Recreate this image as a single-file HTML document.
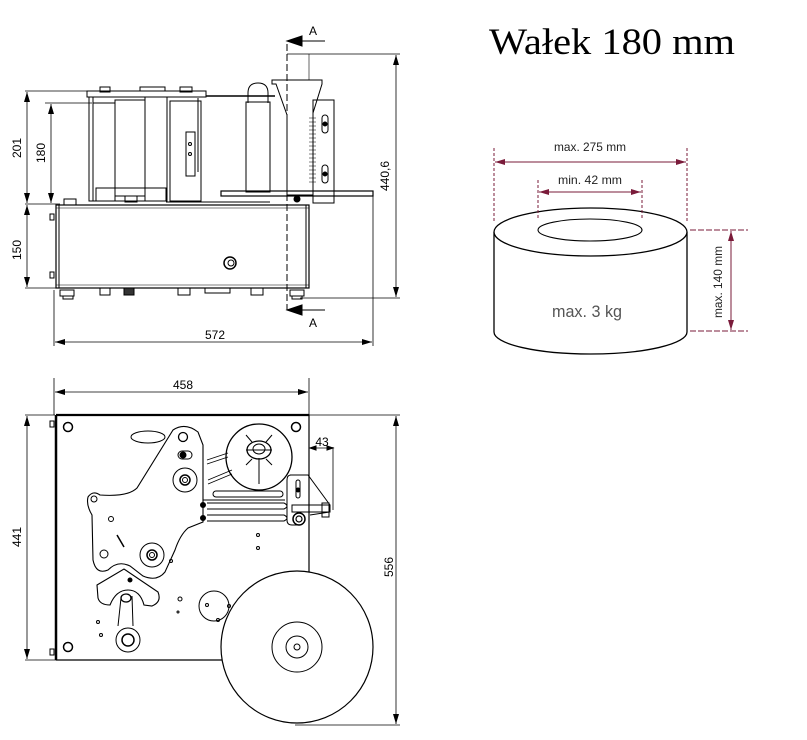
<!DOCTYPE html>
<html><head><meta charset="utf-8"><style>
html,body{margin:0;padding:0;background:#fff;}
svg{display:block;}
text{font-family:"Liberation Sans",sans-serif;}
</style></head><body>
<svg width="807" height="740" viewBox="0 0 807 740" xmlns="http://www.w3.org/2000/svg">
<defs>
<marker id="ab" markerWidth="10" markerHeight="6" refX="10" refY="3" orient="auto-start-reverse" markerUnits="userSpaceOnUse"><path d="M0,0 L10,3 L0,6 Z" fill="#000"/></marker>
<marker id="ar" markerWidth="10" markerHeight="6" refX="10" refY="3" orient="auto-start-reverse" markerUnits="userSpaceOnUse"><path d="M0,0 L10,3 L0,6 Z" fill="#7a1b3a"/></marker>
</defs>
<g stroke="#000" fill="none" stroke-width="1">
<line x1="25" y1="91" x2="100" y2="91" stroke-width="0.8"/>
<line x1="25" y1="204" x2="60" y2="204" stroke-width="0.8"/>
<line x1="45" y1="103" x2="92" y2="103" stroke-width="0.8"/>
<line x1="25" y1="288" x2="58" y2="288" stroke-width="0.8"/>
<line x1="27" y1="92" x2="27" y2="203" marker-start="url(#ab)" marker-end="url(#ab)" stroke-width="0.8"/>
<line x1="51" y1="104" x2="51" y2="203" marker-start="url(#ab)" marker-end="url(#ab)" stroke-width="0.8"/>
<line x1="27" y1="205" x2="27" y2="287" marker-start="url(#ab)" marker-end="url(#ab)" stroke-width="0.8"/>
<line x1="287" y1="54" x2="400" y2="54" stroke-width="0.8"/>
<line x1="300" y1="298" x2="400" y2="298" stroke-width="0.8"/>
<line x1="396" y1="55" x2="396" y2="297" marker-start="url(#ab)" marker-end="url(#ab)" stroke-width="0.8"/>
<line x1="54" y1="290" x2="54" y2="346" stroke-width="0.8"/>
<line x1="373" y1="192" x2="373" y2="346" stroke-width="0.8"/>
<line x1="55" y1="342" x2="372" y2="342" marker-start="url(#ab)" marker-end="url(#ab)" stroke-width="0.8"/>
<line x1="287" y1="44" x2="287" y2="310" stroke-dasharray="7,3" stroke-width="1"/>
<path d="M287,41 L302,36 L302,46 Z" fill="#000"/><line x1="302" y1="41" x2="325" y2="41"/>
<path d="M287,310 L302,305 L302,315 Z" fill="#000"/><line x1="302" y1="310" x2="325" y2="310"/>
<rect x="56" y="205" width="253" height="83" stroke-width="1.2"/>
<line x1="59" y1="205" x2="59" y2="288"/><line x1="306" y1="205" x2="306" y2="288"/>
<line x1="56" y1="208" x2="309" y2="208" stroke-width="0.6"/>
<line x1="56" y1="285" x2="309" y2="285" stroke-width="0.6"/>
<circle cx="230" cy="263" r="6" stroke-width="1.5"/><circle cx="231" cy="263" r="3"/>
<rect x="50" y="214" width="4" height="6"/><rect x="50" y="272" width="4" height="6"/>
<rect x="60" y="290" width="14" height="6"/><rect x="63" y="296" width="10" height="3"/>
<rect x="100" y="288" width="10" height="7"/><rect x="124" y="288" width="10" height="7" fill="#333"/>
<rect x="178" y="288" width="12" height="7"/><rect x="205" y="288" width="25" height="5"/>
<rect x="251" y="288" width="12" height="7"/><rect x="290" y="290" width="14" height="6"/><rect x="292" y="296" width="10" height="3"/>
<rect x="87" y="91" width="119" height="6"/>
<rect x="100" y="87" width="10" height="5"/><rect x="180" y="87" width="12" height="5"/>
<rect x="140" y="87" width="25" height="4"/>
<rect x="89" y="97" width="4" height="104"/>
<rect x="93" y="103" width="22" height="98"/>
<rect x="115" y="100" width="30" height="96"/>
<rect x="145" y="97" width="22" height="104"/>
<rect x="170" y="101" width="31" height="100"/>
<rect x="186" y="132" width="9" height="44"/>
<circle cx="190" cy="144" r="1.5"/><circle cx="190" cy="154" r="1.5"/>
<line x1="198" y1="98" x2="198" y2="172"/>
<rect x="96" y="188" width="70" height="13"/>
<rect x="125" y="196" width="12" height="6"/>
<rect x="64" y="199" width="12" height="6"/>
<line x1="206" y1="96" x2="275" y2="96" stroke-width="1.5"/>
<line x1="166" y1="202" x2="270" y2="202"/>
<path d="M248,103 L248,93 Q248,83 258,83 Q268,83 268,93 L268,103"/>
<rect x="246" y="102" width="24" height="90"/>
<path d="M272,80 L322,80 L322,84 L313,113 L313,195 L287,195 L287,115 L276,84 L272,84 Z"/>
<line x1="309" y1="54" x2="309" y2="80" stroke-width="0.6"/>
<rect x="313" y="100" width="21" height="103"/>
<line x1="313" y1="115" x2="313" y2="185"/>
<g stroke-width="0.6">
<path d="M309,118 H316 M309,122 H316 M309,126 H316 M309,130 H316 M309,134 H316 M309,138 H316 M309,142 H316 M309,146 H316 M309,150 H316 M309,154 H316 M309,158 H316 M309,162 H316 M309,166 H316 M309,170 H316 M309,174 H316 M309,178 H316 M309,182 H316"/>
</g>
<rect x="322" y="115" width="6" height="18" rx="3"/><rect x="322" y="165" width="6" height="18" rx="3"/>
<circle cx="325" cy="124" r="2" fill="#000"/><circle cx="325" cy="174" r="2" fill="#000"/>
<rect x="221" y="191" width="152" height="5" stroke-width="1.2"/>
<circle cx="297" cy="199" r="3" fill="#000"/>
<line x1="54" y1="378" x2="54" y2="415" stroke-width="0.8"/>
<line x1="309" y1="378" x2="309" y2="415" stroke-width="0.8"/>
<line x1="55" y1="392" x2="308" y2="392" marker-start="url(#ab)" marker-end="url(#ab)" stroke-width="0.8"/>
<line x1="25" y1="415" x2="55" y2="415" stroke-width="0.8"/>
<line x1="25" y1="660" x2="55" y2="660" stroke-width="0.8"/>
<line x1="27" y1="416" x2="27" y2="659" marker-start="url(#ab)" marker-end="url(#ab)" stroke-width="0.8"/>
<line x1="309" y1="415" x2="400" y2="415" stroke-width="0.8"/>
<line x1="295" y1="725" x2="400" y2="725" stroke-width="0.8"/>
<line x1="396" y1="416" x2="396" y2="724" marker-start="url(#ab)" marker-end="url(#ab)" stroke-width="0.8"/>
<path d="M56,415 H309 V573 M56,415 V660 H222" stroke-width="1.2"/>
<line x1="56" y1="415" x2="309" y2="415" stroke-width="2.2"/>
<line x1="56" y1="415" x2="56" y2="660" stroke-width="2.5"/>
<rect x="50" y="421" width="4" height="6"/><rect x="50" y="649" width="4" height="6"/>
<circle cx="68" cy="427" r="4.5" stroke-width="1.5"/><circle cx="296" cy="427" r="4.5" stroke-width="1.5"/>
<circle cx="68" cy="647" r="4.5" stroke-width="1.5"/>
<line x1="333" y1="447" x2="333" y2="510" stroke-width="0.8"/>
<line x1="310" y1="448" x2="333" y2="448" stroke-width="0.8"/>
<path d="M310,448 l6,-2 v4z M333,448 l-6,-2 v4z" fill="#000"/>
<circle cx="259" cy="457" r="33" stroke-width="1.3"/>
<ellipse cx="259" cy="450" rx="12" ry="9" stroke-width="1.3"/>
<ellipse cx="259" cy="449" rx="6" ry="5"/>
<line x1="246" y1="450" x2="272" y2="450"/>
<path d="M246,435 L252,442 M272,435 L266,442 M246,465 L252,459 M272,465 L266,459 M259,458 V484"/>
<path d="M207,460 L228,453 M207,464 L228,457 M208,480 L232,470 M208,484 L232,474" stroke-width="0.8"/>
<rect x="213" y="491" width="70" height="6" rx="3"/>
<path d="M207,503 H284 Q290,506 284,509 H207 M207,515 H284 Q290,518 284,521 H207" />
<line x1="203" y1="500" x2="285" y2="500"/>
<circle cx="203" cy="505" r="2.5" fill="#000"/><circle cx="203" cy="518" r="2.5" fill="#000"/>
<path d="M291,475 Q287,475 287,480 V520 Q287,525 292,525 H300 M290,475 H308 L330,505 L330,512 L310,515"/>
<rect x="296" y="480" width="4" height="18" rx="2"/><circle cx="298" cy="490" r="2" fill="#000"/>
<circle cx="299" cy="519" r="6" stroke-width="1.5"/><circle cx="299" cy="519" r="3" stroke-width="1.2"/>
<rect x="292" y="505" width="38" height="7"/><rect x="322" y="503" width="7" height="14"/>
<circle cx="258" cy="535" r="1.5"/><circle cx="258" cy="548" r="1.5"/>
<path d="M173,430 Q185,422 198,432 L203,445 L203,522 L188,528 Q180,535 175,550 L165,572 Q157,582 143,576 L130,566 Q118,560 108,570 Q96,575 93,560 L92,515 Q86,505 88,497 Q93,490 100,495 Q128,497 137,488 Z" stroke-width="1.1"/>
<circle cx="183" cy="437" r="4.5" stroke-width="1.3"/>
<ellipse cx="148" cy="437" rx="17" ry="6"/>
<rect x="178" y="451" width="14" height="8" rx="4"/><circle cx="183" cy="455" r="3" fill="#000"/>
<circle cx="185" cy="480" r="12"/><circle cx="185" cy="480" r="5" stroke-width="1.5"/><circle cx="185" cy="480" r="2.5"/>
<circle cx="94" cy="499" r="3"/><circle cx="111" cy="519" r="2.5"/><circle cx="104" cy="554" r="4"/>
<line x1="117" y1="535" x2="124" y2="547" stroke-width="1.5"/>
<circle cx="152" cy="555" r="12"/><circle cx="152" cy="555" r="5" stroke-width="1.5"/><circle cx="152" cy="555" r="2.5"/>
<circle cx="171" cy="561" r="1.5"/>
<path d="M97,585 L124,569 L158,592 Q162,602 152,606 L144,605 Q140,590 128,590 Q116,590 110,605 Q100,605 98,598 Z" stroke-width="1.1"/>
<circle cx="130" cy="580" r="2" fill="#000"/>
<path d="M121,598 L118,626 M132,596 L133,626" />
<ellipse cx="126" cy="598" rx="5" ry="4" stroke-width="1.3"/>
<circle cx="128" cy="640" r="12"/><circle cx="128" cy="640" r="6" stroke-width="1.5"/>
<circle cx="98" cy="622" r="1.5"/><circle cx="101" cy="635" r="1.5"/>
<circle cx="180" cy="599" r="2"/><circle cx="178" cy="612" r="1"/>
<circle cx="214" cy="606" r="15"/>
<circle cx="207" cy="605" r="1.5"/><circle cx="229" cy="606" r="1.5"/><circle cx="218" cy="620" r="1.5"/>
<circle cx="297" cy="647" r="76" fill="#fff" stroke-width="1.2"/>
<circle cx="297" cy="647" r="25"/>
<circle cx="297" cy="647" r="11"/>
<circle cx="297" cy="647" r="3"/>
</g>
<g font-size="12" fill="#000">
<text x="21" y="148" transform="rotate(-90 21 148)" text-anchor="middle">201</text>
<text x="45" y="153" transform="rotate(-90 45 153)" text-anchor="middle">180</text>
<text x="21" y="250" transform="rotate(-90 21 250)" text-anchor="middle">150</text>
<text x="389" y="176" transform="rotate(-90 389 176)" text-anchor="middle">440,6</text>
<text x="215" y="339" text-anchor="middle">572</text>
<text x="309" y="35">A</text>
<text x="309" y="327">A</text>
<text x="183" y="389" text-anchor="middle">458</text>
<text x="21" y="537" transform="rotate(-90 21 537)" text-anchor="middle">441</text>
<text x="393" y="567" transform="rotate(-90 393 567)" text-anchor="middle">556</text>
<text x="322" y="446" text-anchor="middle">43</text>
</g>
<text x="489" y="54" font-size="37" style="font-family:'Liberation Serif',serif" textLength="246" lengthAdjust="spacingAndGlyphs">Wałek 180 mm</text>
<g fill="none">
<path d="M494,232 V332 A96.5,22 0 0 0 687,332 V232" stroke="#000" stroke-width="1.3" fill="#fff"/>
<ellipse cx="590.5" cy="232" rx="96.5" ry="24" stroke="#000" stroke-width="1.3" fill="#fff"/>
<ellipse cx="590" cy="230" rx="52" ry="11" stroke="#000" stroke-width="1.1"/>
<g stroke="#7a1b3a" stroke-width="1">
<line x1="494" y1="148" x2="494" y2="222" stroke-dasharray="3,2"/>
<line x1="687" y1="148" x2="687" y2="222" stroke-dasharray="3,2"/>
<line x1="538" y1="180" x2="538" y2="220" stroke-dasharray="3,2"/>
<line x1="642" y1="180" x2="642" y2="220" stroke-dasharray="3,2"/>
<line x1="495" y1="162" x2="686" y2="162" marker-start="url(#ar)" marker-end="url(#ar)"/>
<line x1="539" y1="192" x2="641" y2="192" marker-start="url(#ar)" marker-end="url(#ar)"/>
<line x1="690" y1="230" x2="748" y2="230" stroke-dasharray="6,2"/>
<line x1="690" y1="331" x2="748" y2="331" stroke-dasharray="6,2"/>
<line x1="731" y1="231" x2="731" y2="330" marker-start="url(#ar)" marker-end="url(#ar)"/>
</g>
</g>
<g font-size="12" fill="#222">
<text x="590" y="151" text-anchor="middle" textLength="72" lengthAdjust="spacingAndGlyphs">max. 275 mm</text>
<text x="590" y="184" text-anchor="middle" textLength="64" lengthAdjust="spacingAndGlyphs">min. 42 mm</text>
<text x="722" y="282" transform="rotate(-90 722 282)" text-anchor="middle" textLength="72" lengthAdjust="spacingAndGlyphs">max. 140 mm</text>
<text x="587" y="317" text-anchor="middle" font-size="17" fill="#555" textLength="70" lengthAdjust="spacingAndGlyphs">max. 3 kg</text>
</g>
</svg>
</body></html>
